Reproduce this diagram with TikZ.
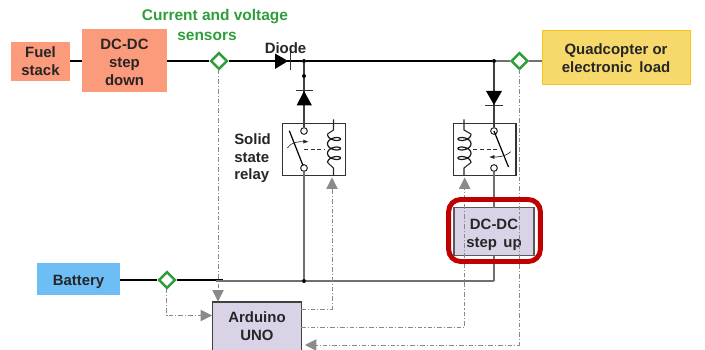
\documentclass[tikz,border=0pt]{standalone}
\usepackage{fontspec}
\setmainfont{Liberation Sans}
\usetikzlibrary{arrows.meta,shapes.geometric}
\definecolor{salmon}{HTML}{FC9A7C}
\definecolor{loadfill}{HTML}{F7D96B}
\definecolor{loadedge}{HTML}{F5C518}
\definecolor{batfill}{HTML}{6DBEF5}
\definecolor{lilac}{HTML}{DAD3E8}
\definecolor{sensgreen}{HTML}{2E9E3A}
\definecolor{ctrlgray}{HTML}{8A8A8A}
\definecolor{wiregray}{HTML}{707070}
\definecolor{txt}{HTML}{262626}
\definecolor{alert}{HTML}{C00000}
\newcommand\pushtop[1]{\rule{0pt}{#1}}
\newcommand\pushbot[1]{\rule[-#1]{0pt}{0pt}}
\tikzset{
  bx/.style 2 args={minimum width=#1*0.75pt,minimum height=#2*0.75pt,inner sep=0pt,outer sep=0pt,align=center,
    font=\fontsize{11.2}{13.5}\selectfont\bfseries,text=txt},
  sensor/.style={diamond,draw=sensgreen,fill=white,line width=1.9pt,minimum size=12.5pt,inner sep=0pt},
  mainwire/.style={black,line width=1.25pt},
  wire/.style={wiregray,line width=1.1pt},
  thinwire/.style={black!75,line width=0.8pt},
  ctrl/.style={ctrlgray,line width=0.6pt,dash pattern=on 3.5pt off 1.5pt on 0.8pt off 1.5pt},
  ctrlarrow/.style={ctrl,-{Triangle[length=8.5pt,width=8.5pt,fill=ctrlgray]}},
  junction/.style={circle,fill=black,inner sep=0pt,minimum size=3pt},
  terminal/.style={circle,draw=black!80,fill=white,line width=0.8pt,inner sep=0pt,minimum size=5pt},
  relaybox/.style={bx={#1}{52.5},draw=black!80,line width=1pt},
  label/.style={font=\fontsize{11.2}{13.5}\selectfont\bfseries,text=txt,inner sep=0pt,align=center},
  greenlabel/.style={font=\fontsize{11.6}{14}\selectfont\bfseries,text=sensgreen,inner sep=0pt,align=center},
  coilwire/.style={black!90,line width=0.9pt,smooth},
}
\begin{document}
\begin{tikzpicture}[x=0.75pt,y=-0.75pt]
\useasboundingbox (0,0) rectangle (705,349);
\clip (0,0) rectangle (705,349);
% blocks
\node[bx={59}{39},fill=salmon] (fuel) at (40.5,61.5) {Fuel\\stack};
\node[bx={85}{63},fill=salmon] (down) at (124.5,60.5) {\pushtop{11pt}DC-DC\\step\\down};
\node[bx={148}{54},fill=loadfill,draw=loadedge,line width=0.6pt] (load) at (616,57) {\pushtop{9.5pt}Quadcopter or\\electronic\hspace{0.2em} load};
\node[bx={83}{32},fill=batfill] (bat) at (78.5,279) {\pushtop{12.5pt}Battery};
\node[bx={89}{50},fill=lilac,draw=black!75,line width=0.9pt] (ard) at (257,327) {Arduino\\UNO\pushbot{1.5pt}};
\node[bx={80}{48},fill=lilac,draw=black!65,line width=0.9pt] (up) at (494,231.7) {\pushtop{12.5pt}DC-DC\\step\hspace{0.15em} up};
% relays
\node[relaybox=62.5] (rl) at (314,149.5) {};
\node[relaybox=62.5] (rr) at (484.7,149.5) {};
% junctions and terminals
\node[junction] (j1) at (304,61) {};
\node[junction] (j2) at (304,76) {};
\node[junction] (j3) at (494,61) {};
\node[junction] (j4) at (304,281) {};
\coordinate (j5) at (494,281);
\coordinate (j6) at (223,280);
\coordinate (j7) at (216,281);
\node[terminal] (lt) at (304,131) {};
\node[terminal] (lb) at (304,168) {};
\node[terminal] (rt) at (494,131) {};
\node[terminal] (rb) at (494,168) {};
% sensors
\node[sensor] (s1) at (219,61) {};
\node[sensor] (s2) at (519.5,61) {};
\node[sensor] (s3) at (167,280) {};
% power wires
\coordinate (loadin) at (542,61);
\coordinate (upbot) at (494,255.7);
\coordinate (uptop) at (494,207.7);
\coordinate (batout) at (120,280);
\coordinate (fuelr) at (70,61);
\coordinate (downl) at (82,61);
\coordinate (downr) at (167,61);
\draw[mainwire] (fuelr) -- (downl);
\draw[mainwire] (downr) -- (s1);
\draw[mainwire] (s1) -- (j1);
\draw[mainwire] (j1) -- (j3);
\draw[wire] (j3) -- (s2);
\draw[wire] (s2) -- (loadin);
\draw[mainwire] (batout) -- (s3);
\draw[mainwire] (s3) -- (j6);
\draw[wire] (j7) -- (j4);
\draw[wire] (j4) -- (j5);
\draw[wire] (j5) -- (upbot);
\draw[wire] (j4) -- (lb);
\draw[wire] (rb) -- (uptop);
\draw[thinwire] (j1) -- (j2);
\draw[thinwire] (j2) -- (lt);
\draw[thinwire] (j3) -- (rt);
% diodes
\fill[black] (275,53.5) -- (288,61) -- (275,69) -- cycle;
\draw[black!80,line width=0.7pt] (290,52) -- (290,70);
\fill[black] (296.5,105.5) -- (304,91) -- (312,105.5) -- cycle;
\draw[black!80,line width=0.7pt] (296,90.7) -- (313,90.7);
\fill[black] (486,91) -- (494,105) -- (502,91) -- cycle;
\draw[black!80,line width=0.7pt] (485,105.3) -- (503,105.3);
% left relay contents
\draw[black,line width=0.9pt] (289.3,130.7) -- (303,165.5);
\draw[black!85,line width=0.5pt,-{Latex[length=4pt,width=3pt]}] (287.3,148) .. controls (291,142) and (299,141.5) .. (308.7,141.7);
\draw[black!80,line width=0.6pt,dash pattern=on 3pt off 2pt] (304,149) -- (325,149);
\draw[coilwire] plot[domain=0:1080,samples=73] ({334-6.5*cos(\x)},{139+(\x-180)*9.5/360+3.5*sin(\x)});
\draw[black!85,line width=0.8pt] (333.5,119.3) -- (333.5,130) -- (327.5,134);
\draw[black!85,line width=0.8pt] (327.5,162.5) -- (333.5,168) -- (333.5,175.7);
% right relay contents
\draw[black,line width=0.9pt] (494,131) -- (508.5,167);
\draw[black!85,line width=0.5pt,-{Latex[length=4pt,width=3pt]}] (510.7,151.7) .. controls (505,157) and (497,157) .. (489,157);
\draw[black!80,line width=0.6pt,dash pattern=on 3pt off 2pt] (473.3,149) -- (498,149);
\draw[coilwire] plot[domain=0:1080,samples=73] ({464.5+6.5*cos(\x)},{139+(\x-180)*9.5/360+3.5*sin(\x)});
\draw[black!85,line width=0.8pt] (464,119.3) -- (464,130) -- (471,134);
\draw[black!85,line width=0.8pt] (471,162.5) -- (464,168) -- (464,175.7);
% control lines
\coordinate (a1) at (301,309);
\coordinate (c1) at (332,177.5);
\coordinate (a2) at (301,327.7);
\coordinate (c2) at (464.7,177.5);
\coordinate (a3) at (305,345);
\coordinate (a4) at (212,315.5);
\coordinate (s1b) at (218,69.5);
\coordinate (a5) at (218,301.5);
\coordinate (s3b) at (166.5,288.5);
\coordinate (s2b) at (519,69.5);
\draw[ctrlarrow] (s1b) -- (a5);
\draw[ctrlarrow] (s3b) |- (a4);
\draw[ctrlarrow] (a1) -| (c1);
\draw[ctrlarrow] (a2) -| (c2);
\draw[ctrlarrow] (s2b) |- (a3);
% highlight
\node[draw=alert,line width=3.7pt,rounded corners=9pt,minimum width=72.5pt-3.7pt,minimum height=50.2pt-3.7pt,inner sep=0pt,outer sep=0pt] (hl) at (494.5,230.5) {};
% labels
\node[greenlabel] (g1) at (215,17) {Current and voltage};
\node[greenlabel] (g2) at (207,36) {sensors};
\node[label] (dl) at (285.5,48) {Diode};
\node[label,anchor=west] (sl1) at (234,139) {Solid};
\node[label,anchor=west] (sl2) at (234,157.5) {state};
\node[label,anchor=west] (sl3) at (234,176) {relay};
\end{tikzpicture}
\end{document}
